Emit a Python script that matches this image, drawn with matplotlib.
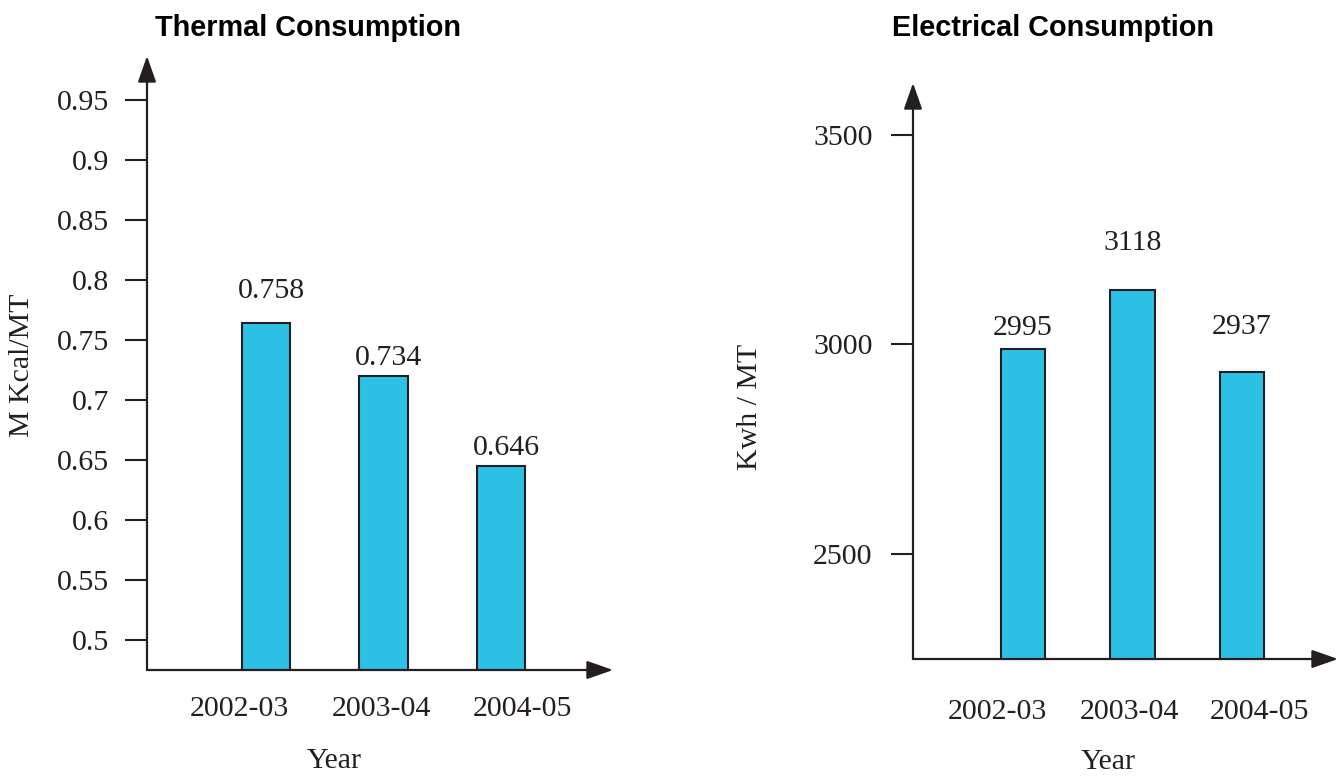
import numpy as np
import matplotlib.pyplot as plt

# data
years = ['2002-03', '2003-04', '2004-05']
thermal_labels = ['0.758', '0.734', '0.646']
thermal_bars = [0.764, 0.720, 0.645]
elec_labels = ['2995', '3118', '2937']
elec_bars = [2989, 3129, 2933]

INK = '#231f20'
BAR = '#2ec1e6'
W, H = 1338, 778
FS = 21.5


def box(x0, x1, ytop, ybot):
    # pixel box -> figure fraction rect
    return [x0 / W, 1 - ybot / H, (x1 - x0) / W, (ybot - ytop) / H]


def arrow_axes(ax):
    for s in ax.spines.values():
        s.set_visible(False)
    kw = dict(arrowstyle='-|>,head_length=0.8,head_width=0.28', color=INK,
              lw=1.6, shrinkA=0, shrinkB=0, mutation_scale=20)
    ax.annotate('', xy=(0, 1), xytext=(0, 0), xycoords='axes fraction',
                arrowprops=kw, annotation_clip=False)
    ax.annotate('', xy=(1, 0), xytext=(0, 0), xycoords='axes fraction',
                arrowprops=kw, annotation_clip=False)


def draw_panel(ax, bars, labels, lab_off, xlim, ylim, yticks, yticklabels,
               width, xticks, xpad, ypad, title, ylabel, ylab_xy, title_x,
               year_xy):
    x = np.arange(len(bars))
    ax.bar(x, bars, width=width, color=BAR, edgecolor=INK, linewidth=1.5,
           zorder=2)
    for xi, b, t, (dx, dy) in zip(x, bars, labels, lab_off):
        ax.annotate(t, (xi, b), xytext=(dx, dy), textcoords='offset pixels',
                    ha='center', va='center', fontsize=FS, color=INK,
                    family='Liberation Serif')
    ax.set_xlim(*xlim)
    ax.set_ylim(*ylim)
    ax.set_yticks(yticks)
    ax.set_yticklabels(yticklabels, family='Liberation Serif', fontsize=FS,
                       color=INK)
    ax.tick_params(axis='y', length=16, width=1.5, color=INK, pad=ypad)
    ax.set_xticks(xticks)
    ax.set_xticklabels(years, family='Liberation Serif', fontsize=FS,
                       color=INK)
    ax.tick_params(axis='x', length=0, pad=xpad)
    arrow_axes(ax)
    fig.text(title_x / W, 1 - 28 / H, title, ha='center', va='center',
             fontsize=20.8, fontweight='bold', family='Liberation Sans',
             color='black')
    fig.text(ylab_xy[0] / W, 1 - ylab_xy[1] / H, ylabel, rotation=90,
             ha='center', va='center', fontsize=FS,
             family='Liberation Serif', color=INK)
    fig.text(year_xy[0] / W, 1 - year_xy[1] / H, 'Year', ha='center',
             va='baseline', fontsize=FS, family='Liberation Serif', color=INK)


fig = plt.figure(figsize=(13.38, 7.78), dpi=100)

ax1 = fig.add_axes(box(147, 613, 56, 670))
draw_panel(ax1, thermal_bars, thermal_labels,
           [(5, 32), (5, 18), (5, 18)],
           (-1.013, 2.953), (0.475, 0.9866),
           [0.5, 0.55, 0.6, 0.65, 0.7, 0.75, 0.8, 0.85, 0.9, 0.95],
           ['0.5', '0.55', '0.6', '0.65', '0.7', '0.75', '0.8', '0.85',
            '0.9', '0.95'],
           0.41, [-0.23, 0.98, 2.18], 19, 11,
           'Thermal Consumption', 'M Kcal/MT', (22, 365), 308, (334, 768))

ax2 = fig.add_axes(box(913, 1338, 83, 659))
draw_panel(ax2, elec_bars, elec_labels,
           [(0, 21), (0, 47), (0, 45)],
           (-1.005, 2.877), (2249, 3623),
           [2500, 3000, 3500], ['2500', '3000', '3500'],
           0.406, [-0.23, 0.97, 2.16], 29, 13,
           'Electrical Consumption', 'Kwh / MT', (750, 407), 1053,
           (1108, 769))

fig.savefig('out.png', dpi=100)
